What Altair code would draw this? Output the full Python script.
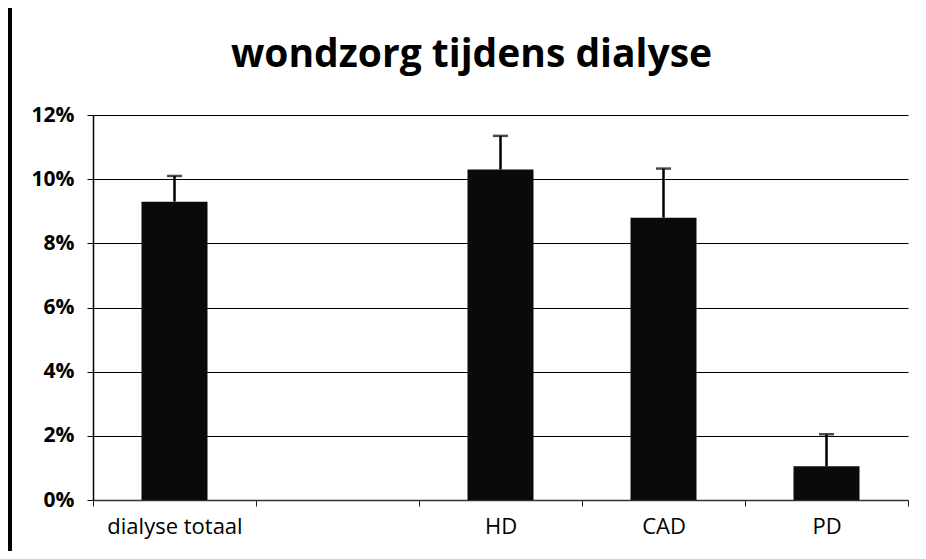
import altair as alt
import pandas as pd

categories = ["dialyse totaal", " ", "HD", "CAD", "PD"]
values = [0.093, None, 0.103, 0.088, 0.0105]
upper = [0.101, None, 0.1135, 0.1033, 0.0205]
y_ticks = [0, 0.02, 0.04, 0.06, 0.08, 0.10, 0.12]

df = pd.DataFrame({"cat": categories, "value": values, "upper": upper})

FONT = "Open Sans"
W, H = 815, 385

x_enc = alt.X(
    "cat:N",
    sort=categories,
    scale=alt.Scale(domain=categories, paddingInner=0, paddingOuter=0),
    axis=alt.Axis(
        title=None, labelAngle=0, tickBand="extent", tickSize=6, tickColor="#222",
        domainColor="#333", domainWidth=1.5, labelFont=FONT, labelFontSize=22,
        labelColor="#000", labelPadding=10, grid=False,
    ),
)
y_scale = alt.Scale(domain=[0, 0.12], nice=False)
y_axis = alt.Axis(
    title=None, values=y_ticks, format=".0%", grid=True, gridColor="#000",
    gridWidth=1.2, tickSize=6, tickColor="#000", domainColor="#000", domainWidth=1.5,
    labelFont=FONT, labelFontSize=21, labelFontWeight="bold", labelColor="#000",
    labelPadding=13,
)

bars = alt.Chart(df).mark_bar(size=66, color="#0a0a0a").encode(
    x=x_enc, y=alt.Y("value:Q", scale=y_scale, axis=y_axis)
)
err = alt.Chart(df).mark_rule(color="#000", strokeWidth=2.5).encode(
    x=alt.X("cat:N", sort=categories), y="value:Q", y2="upper:Q"
)
caps = alt.Chart(df).mark_tick(color="#000", size=15, thickness=2.5).encode(
    x=alt.X("cat:N", sort=categories), y="upper:Q"
)
frame = alt.Chart(df).mark_rect(color="#000").encode(
    x=alt.value(-85), x2=alt.value(-81), y=alt.value(-107), y2=alt.value(H + 51)
)

chart = alt.layer(bars, err, caps, frame).properties(
    width=W,
    height=H,
    autosize=alt.AutoSizeParams(type="none"),
    padding={"left": 85, "top": 107, "right": 10, "bottom": 51},
    title=alt.TitleParams(
        "wondzorg tijdens dialyse", font=FONT, fontSize=39, fontWeight="bold",
        color="#000", anchor="middle", offset=0, baseline="alphabetic", dy=98, dx=-29,
    ),
    background="white",
).configure_view(stroke=None)

chart.save("out.html", embed_options={"renderer": "svg", "actions": False})
